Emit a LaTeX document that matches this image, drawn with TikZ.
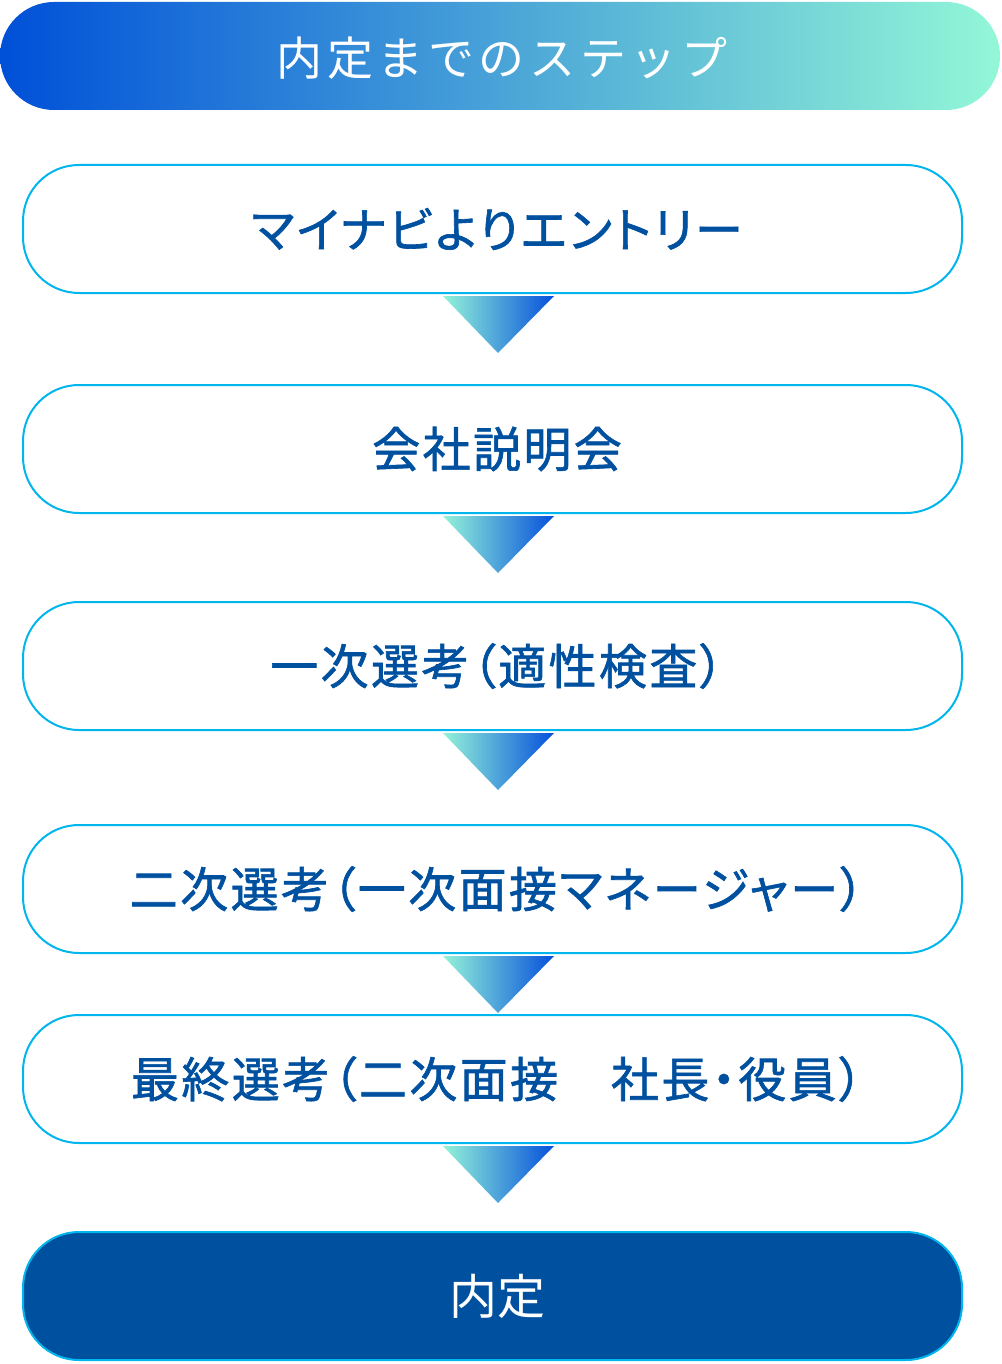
\documentclass[tikz,border=0pt]{standalone}
\usepackage{fontspec}
\newfontfamily\jp{Noto Sans CJK JP}
\newfontfamily\jph[LetterSpace=10]{Noto Sans CJK JP}
\newfontfamily\jpm[FakeBold=1.3,RawFeature=+palt,LetterSpace=5]{Noto Sans CJK JP}
\usetikzlibrary{calc}
\definecolor{hdrL}{HTML}{0050D8}
\definecolor{hdrR}{HTML}{93F7D7}
\definecolor{triL}{HTML}{93F3D8}
\definecolor{triR}{HTML}{0650DC}
\definecolor{bordc}{HTML}{00B6EC}
\definecolor{txtc}{HTML}{0050A0}
\definecolor{finalc}{HTML}{0050A0}
\tikzset{
  stepbox/.style={draw=bordc, line width=2pt, fill=white, rounded corners=56pt,
    minimum width=939pt, minimum height=128pt, inner sep=0pt,
    text=txtc, font=\jpm\fontsize{48}{56}\selectfont},
  finalbox/.style={stepbox, fill=finalc, text=white, font=\jp\fontsize{48}{56}\selectfont},
  tri/.style={left color=triL, right color=triR}
}
\newcommand{\shiftr}{\hspace*{9pt}}
\begin{document}
\begin{tikzpicture}[x=1pt,y=-1pt]
\useasboundingbox (0,0) rectangle (1001,1364);
\shade[left color=hdrL, right color=hdrR, rounded corners=54pt] (0,2) rectangle (1000,110);
\node[text=white, font=\jph\fontsize{46}{52}\selectfont, inner sep=0pt] (hdr) at (502,58) {内定までのステップ};
\node[stepbox] (b1) at (492.5,229) {\shiftr マイナビよりエントリー};
\node[stepbox] (b2) at (492.5,449) {\shiftr 会社説明会};
\node[stepbox] (b3) at (492.5,666) {\shiftr 一次選考（適性検査）};
\node[stepbox] (b4) at (492.5,889) {\shiftr 二次選考（一次面接マネージャー）};
\node[stepbox] (b5) at (492.5,1079) {\shiftr 最終選考（二次面接　社長・役員）};
\node[finalbox] (b6) at (492.5,1296) {\shiftr 内定};
\foreach \a/\b in {b1/b2,b2/b3,b3/b4,b4/b5,b5/b6}{
  \shade[tri] ($(\a.south)+(-49.5,2)$) -- ($(\a.south)+(61.5,2)$) -- ($(\a.south)+(5.5,59)$) -- cycle;
}
\end{tikzpicture}
\end{document}
